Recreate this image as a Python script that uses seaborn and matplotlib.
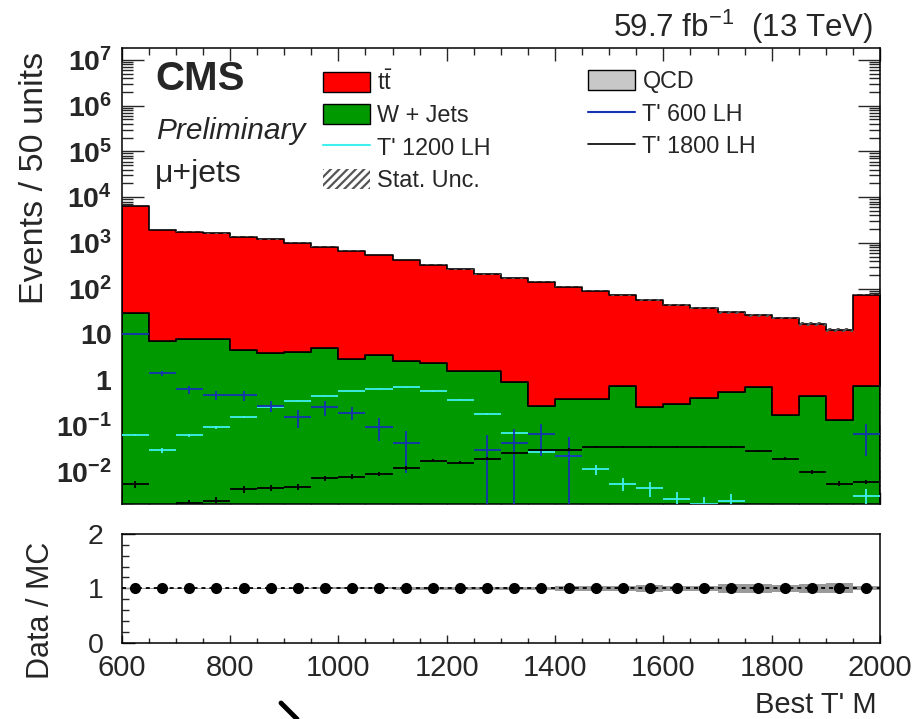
import numpy as np
import pandas as pd
import matplotlib
matplotlib.use("Agg")
import matplotlib.pyplot as plt
from matplotlib.patches import Patch
from matplotlib.lines import Line2D
from matplotlib.ticker import FixedLocator, MultipleLocator, FuncFormatter, LogLocator, NullFormatter
import seaborn as sns

# ---- binning -------------------------------------------------------------
bin_edges = np.arange(600, 2001, 50)
bin_centers = 0.5 * (bin_edges[:-1] + bin_edges[1:])

# ---- background yields per 50-unit bin -------------------------------------
ttbar = [6420, 1883, 1747, 1592, 1355, 1191, 1002, 821, 668, 538, 418, 325,
         265, 204, 167, 141, 110, 90, 70, 56, 43, 36.6, 29.5, 25.3, 22.2,
         16.4, 12.4, 73]
wjets = [29, 7.2, 7.7, 7.7, 4.5, 3.8, 4.0, 4.9, 2.8, 3.5, 2.6, 2.4, 1.57,
         1.57, 0.89, 0.27, 0.38, 0.38, 0.74, 0.25, 0.30, 0.41, 0.54, 0.71,
         0.17, 0.44, 0.13, 0.74]
qcd = [0.0] * 28
# relative MC statistical uncertainty of the summed background
stat_rel = [0.01, 0.012, 0.012, 0.012, 0.013, 0.014, 0.015, 0.016, 0.018,
            0.02, 0.022, 0.024, 0.026, 0.028, 0.03, 0.032, 0.045, 0.04, 0.045,
            0.06, 0.05, 0.05, 0.08, 0.08, 0.06, 0.08, 0.09, 0.035]

# ---- signal templates --------------------------------------------------------
nan = np.nan
tp600 = [10.1, 1.39, 0.62, 0.46, 0.46, 0.27, 0.155, 0.25, 0.19, 0.095, 0.042,
         nan, nan, 0.029, 0.042, 0.065, 0.022, nan, nan, nan, nan, nan, nan,
         nan, nan, nan, nan, 0.065]
tp600_err = [0.4, 0.17, 0.13, 0.1, 0.12, 0.07, 0.065, 0.09, 0.06, 0.05, 0.033,
             nan, nan, 0.033, 0.043, 0.043, 0.035, nan, nan, nan, nan, nan,
             nan, nan, nan, nan, nan, 0.043]
tp1200 = [0.062, 0.029, 0.062, 0.092, 0.155, 0.26, 0.35, 0.45, 0.56, 0.64,
          0.69, 0.57, 0.37, 0.18, 0.07, 0.026, 0.0215, 0.011, 0.0054, 0.0043,
          0.0025, 0.00195, 0.0023, nan, nan, nan, nan, 0.0029]
tp1200_err = [0.004, 0.004, 0.005, 0.006, 0.008, 0.01, 0.012, 0.014, 0.015,
              0.016, 0.016, 0.015, 0.012, 0.009, 0.006, 0.004, 0.0035, 0.0025,
              0.0017, 0.0015, 0.001, 0.0008, 0.0009, nan, nan, nan, nan, 0.0012]
tp1800 = [0.0052, nan, 0.002, 0.0023, 0.0041, 0.0044, 0.0046, 0.0071, 0.0077,
          0.0088, 0.0117, 0.0172, 0.0155, 0.019, 0.025, 0.029, 0.030, 0.034,
          0.034, 0.034, 0.034, 0.034, 0.034, 0.028, 0.019, 0.0098, 0.0054,
          0.0059]
tp1800_err = [0.0008, nan, 0.0004, 0.0005, 0.0007, 0.0007, 0.0007, 0.0009,
              0.0009, 0.001, 0.0011, 0.0013, 0.0012, 0.0013, 0.0015, 0.0018,
              0.0018, 0.002, 0.002, 0.002, 0.002, 0.002, 0.002, 0.0018,
              0.0014, 0.0009, 0.0007, 0.0007]

# ---- data / MC ratio -----------------------------------------------------
ratio = [1.0] * 28
ratio_err = [0.005, 0.01, 0.01, 0.01, 0.01, 0.01, 0.012, 0.012, 0.014, 0.015,
             0.016, 0.018, 0.02, 0.02, 0.022, 0.025, 0.03, 0.03, 0.035, 0.04,
             0.045, 0.045, 0.05, 0.05, 0.055, 0.075, 0.09, 0.04]

process_names = [r"$t\bar{t}$", "W + Jets", "QCD"]
process_colors = {r"$t\bar{t}$": "#ff0000", "W + Jets": "#009900", "QCD": "#c8c8c8"}

# ---- style ---------------------------------------------------------------
sns.set_style("ticks")
plt.rcParams["font.family"] = ["Liberation Sans", "DejaVu Sans"]
plt.rcParams["mathtext.fontset"] = "custom"
plt.rcParams["mathtext.rm"] = "Liberation Sans"
plt.rcParams["mathtext.it"] = "Liberation Sans:italic"
plt.rcParams["mathtext.bf"] = "Liberation Sans:bold"
plt.rcParams["mathtext.default"] = "regular"
plt.rcParams["hatch.linewidth"] = 1.6
plt.rcParams["axes.linewidth"] = 1.1

W, H = 917, 719
fig = plt.figure(figsize=(W / 100, H / 100), dpi=100)


def fx(px):
    return px / W


def fy(py):
    return 1 - py / H


ax = fig.add_axes([fx(121.7), fy(504.3), fx(880) - fx(121.7), fy(48.3) - fy(504.3)])
rax = fig.add_axes([fx(121.7), fy(642.7), fx(880) - fx(121.7), fy(534) - fy(642.7)])

# ---- stacked backgrounds -------------------------------------------------------
df = pd.DataFrame({
    "mass": np.tile(bin_centers, 3),
    "events": np.concatenate([ttbar, wjets, qcd]),
    "process": np.repeat(process_names, len(bin_centers)),
})
ax.set_yscale("log")
sns.histplot(data=df, x="mass", weights="events", hue="process",
             hue_order=process_names, palette=process_colors,
             bins=len(bin_centers), binrange=(bin_edges[0], bin_edges[-1]),
             multiple="stack", element="step", fill=True, alpha=1,
             edgecolor="black", linewidth=1.2, legend=False, ax=ax, zorder=2)

total = np.array(ttbar) + np.array(wjets) + np.array(qcd)
rel = np.array(stat_rel)
lo = np.append(total * (1 - rel), total[-1] * (1 - rel[-1]))
hi = np.append(total * (1 + rel), total[-1] * (1 + rel[-1]))
ax.fill_between(bin_edges, lo, hi, step="post", facecolor="none",
                edgecolor="#555555", hatch="////", linewidth=0, zorder=3)

# ---- signals ---------------------------------------------------------------
for vals, errs, col in [(tp1200, tp1200_err, "#40f0f0"),
                        (tp600, tp600_err, "#1533b0"),
                        (tp1800, tp1800_err, "black")]:
    ax.errorbar(bin_centers, vals, xerr=25, yerr=errs, fmt="none",
                ecolor=col, elinewidth=1.3, capsize=0, zorder=4)

ax.set_xlim(600, 2000)
ax.set_ylim(0.0019, 1.8e7)
ax.set_xlabel("")
ax.set_ylabel("")
ax.xaxis.set_major_locator(MultipleLocator(200))
ax.xaxis.set_minor_locator(MultipleLocator(50))
ax.xaxis.set_major_formatter(NullFormatter())
ax.yaxis.set_major_locator(FixedLocator([10.0 ** e for e in range(-2, 8)]))
ax.yaxis.set_minor_locator(LogLocator(base=10, subs=np.arange(2, 10), numticks=30))
ax.yaxis.set_minor_formatter(NullFormatter())


def log_label(v, pos):
    e = int(round(np.log10(v)))
    if e == 0:
        return r"$\mathbf{1}$"
    if e == 1:
        return r"$\mathbf{10}$"
    return r"$\mathbf{10^{%d}}$" % e


ax.yaxis.set_major_formatter(FuncFormatter(log_label))
ax.tick_params(axis="x", which="major", direction="in", length=9, width=1,
               top=True, bottom=True)
ax.tick_params(axis="x", which="minor", direction="in", length=5, width=1,
               top=True, bottom=True)
ax.tick_params(axis="y", which="major", direction="in", length=16, width=1,
               left=True, right=True, labelsize=20.5, pad=7)
ax.tick_params(axis="y", which="minor", direction="in", length=8, width=1,
               left=True, right=True)
for s in ax.spines.values():
    s.set_visible(True)
    s.set_color("black")

# ---- legend ----------------------------------------------------------------
h1 = [Patch(facecolor="#ff0000", edgecolor="black", linewidth=1),
      Patch(facecolor="#009900", edgecolor="black", linewidth=1),
      Line2D([], [], color="#40f0f0", lw=1.5),
      Patch(facecolor="white", edgecolor="#555555", hatch="////", linewidth=0)]
l1 = [r"$t\bar{t}$", "W + Jets", "T' 1200 LH", "Stat. Unc."]
h2 = [Patch(facecolor="#c8c8c8", edgecolor="black", linewidth=1),
      Line2D([], [], color="#1533b0", lw=1.5),
      Line2D([], [], color="black", lw=1.2)]
l2 = ["QCD", "T' 600 LH", "T' 1800 LH"]
common = dict(frameon=False, fontsize=16.8, handlelength=2.0, handleheight=0.95,
              handletextpad=0.33, labelspacing=0.4, borderpad=0,
              borderaxespad=0, loc="upper left")
leg1 = ax.legend(h1, l1, bbox_to_anchor=(0.2655, 0.952), **common)
ax.add_artist(leg1)
ax.legend(h2, l2, bbox_to_anchor=(0.615, 0.952), **common)

# ---- labels ----------------------------------------------------------------
fig.text(fx(155), fy(90), "CMS", fontsize=29, fontweight="bold", va="baseline")
fig.text(fx(156), fy(139), "Preliminary", fontsize=21.5, style="italic", va="baseline")
fig.text(fx(155), fy(182), "μ+jets", fontsize=23, va="baseline")
fig.text(fx(873), fy(37), r"59.7 fb$^{-1}$  (13 TeV)", fontsize=22.5,
         ha="right", va="baseline")
fig.text(fx(35), fy(52), "Events / 50 units", fontsize=24.5, rotation=90,
         ha="center", va="top")

# ---- ratio panel -------------------------------------------------------------
r = np.array(ratio)
band = np.array(stat_rel)
rax.fill_between(bin_edges, np.append(r - band, r[-1] - band[-1]),
                 np.append(r + band, r[-1] + band[-1]), step="post",
                 color="#9a9a9a", linewidth=0, zorder=1)
rax.axhline(1.0, color="black", lw=1.3, ls=(0, (2.2, 2.2)), zorder=2)
rax.errorbar(bin_centers, ratio, yerr=ratio_err, fmt="o", color="black",
             markersize=7, elinewidth=1.3, capsize=0, zorder=3)
rax.set_xlim(600, 2000)
rax.set_ylim(0, 2)
rax.set_xlabel("")
rax.set_ylabel("")
rax.xaxis.set_major_locator(MultipleLocator(200))
rax.xaxis.set_minor_locator(MultipleLocator(50))
rax.yaxis.set_major_locator(MultipleLocator(1))
rax.yaxis.set_minor_locator(MultipleLocator(0.2))
rax.tick_params(axis="x", which="major", direction="in", length=6, width=1,
                labelsize=21, pad=8)
rax.tick_params(axis="x", which="minor", direction="in", length=3.5, width=1)
rax.tick_params(axis="y", which="major", direction="in", length=9, width=1,
                labelsize=20.5, pad=13)
rax.tick_params(axis="y", which="minor", direction="in", length=5, width=1)
for s in rax.spines.values():
    s.set_visible(True)
    s.set_color("black")

fig.text(fx(41), fy(610), "Data / MC", fontsize=22, rotation=90,
         ha="center", va="center")
fig.text(fx(877), fy(713), "Best T' M", fontsize=21, ha="right", va="baseline")

# stray pen stroke below the ratio axis
fig.add_artist(Line2D([fx(281), fx(297)], [fy(703), fy(719)], color="black",
                      lw=3.5, transform=fig.transFigure))

fig.savefig("out.png", dpi=100)
